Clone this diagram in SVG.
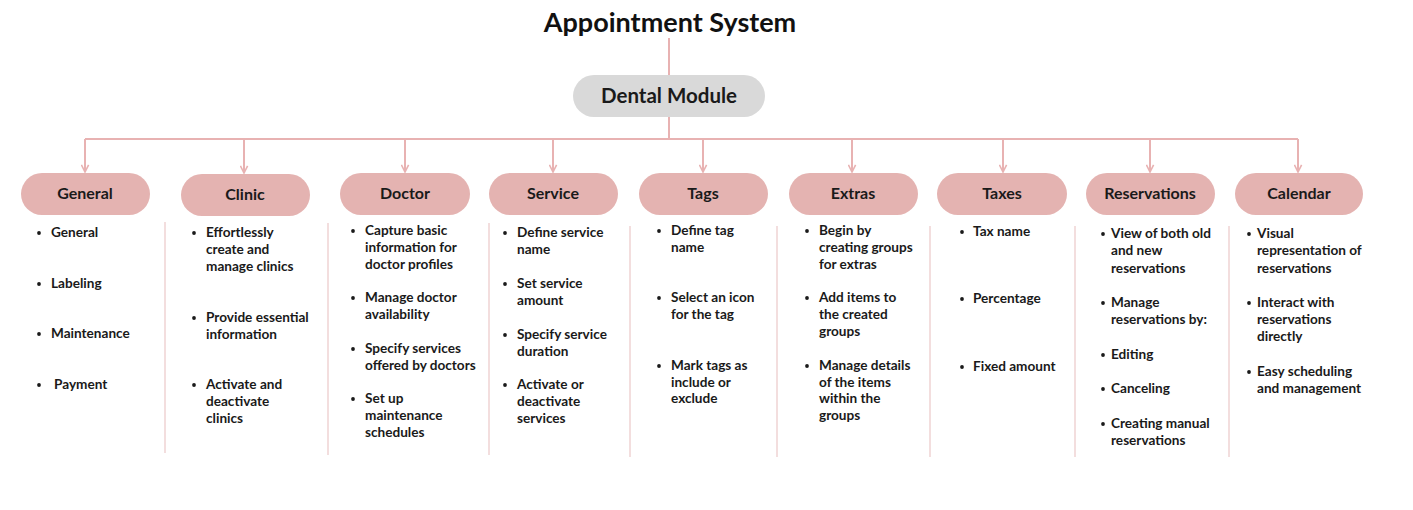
<svg xmlns="http://www.w3.org/2000/svg" width="1413" height="510" viewBox="0 0 1413 510">
<style>
.title{font-family:Lato,"Liberation Sans",sans-serif;font-weight:700;font-size:27px;fill:#111}
.root{fill:#d9d9d9}
.roottxt{font-family:Lato,"Liberation Sans",sans-serif;font-weight:700;font-size:20.5px;fill:#1a1a1a}
.pill{fill:#e4b3b1}
.head{font-family:Lato,"Liberation Sans",sans-serif;font-weight:700;font-size:16px;fill:#1a1a1a;text-anchor:middle}
.item{font-family:Lato,"Liberation Sans",sans-serif;font-weight:700;font-size:13.6px;fill:#1a1a1a}
.bul{fill:#1a1a1a}
.conn{stroke:#e8b2b2;stroke-width:2;fill:none}
.sep{stroke:#efd3d3;stroke-width:1.5;fill:none}
</style>
<defs>
<marker id="arr" viewBox="0 0 10 10" refX="9" refY="5" markerWidth="9" markerHeight="9" markerUnits="userSpaceOnUse" orient="auto">
<path d="M1,1 L9,5 L1,9" fill="none" stroke="#e8b2b2" stroke-width="1.8"/>
</marker>
</defs>
<rect width="1413" height="510" fill="#ffffff"/>
<text class="title" x="670" y="32" text-anchor="middle">Appointment System</text>

<g id="connectors">
<line class="conn" x1="669" y1="38" x2="669" y2="75"/>
<line class="conn" x1="669" y1="117" x2="669" y2="139"/>
<line class="conn" x1="85" y1="139" x2="1298" y2="139"/>
<line class="conn" x1="85" y1="139" x2="85" y2="172" marker-end="url(#arr)"/>
<line class="conn" x1="244" y1="139" x2="244" y2="173" marker-end="url(#arr)"/>
<line class="conn" x1="405" y1="139" x2="405" y2="172" marker-end="url(#arr)"/>
<line class="conn" x1="553" y1="139" x2="553" y2="172" marker-end="url(#arr)"/>
<line class="conn" x1="703" y1="139" x2="703" y2="172" marker-end="url(#arr)"/>
<line class="conn" x1="852" y1="139" x2="852" y2="172" marker-end="url(#arr)"/>
<line class="conn" x1="1003" y1="139" x2="1003" y2="172" marker-end="url(#arr)"/>
<line class="conn" x1="1150" y1="139" x2="1150" y2="172" marker-end="url(#arr)"/>
<line class="conn" x1="1298" y1="139" x2="1298" y2="172" marker-end="url(#arr)"/>
<line class="sep" x1="165" y1="222" x2="165" y2="453"/>
<line class="sep" x1="328" y1="223" x2="328" y2="455"/>
<line class="sep" x1="489" y1="223" x2="489" y2="455"/>
<line class="sep" x1="630" y1="226" x2="630" y2="457"/>
<line class="sep" x1="777" y1="226" x2="777" y2="457"/>
<line class="sep" x1="930" y1="226" x2="930" y2="457"/>
<line class="sep" x1="1075" y1="226" x2="1075" y2="457"/>
<line class="sep" x1="1229" y1="226" x2="1229" y2="457"/>
</g>

<g id="dental-module">
<rect class="root" x="573" y="75" width="192" height="42" rx="21"/>
<text class="roottxt" x="669" y="103" text-anchor="middle">Dental Module</text>
</g>

<g id="general">
<rect class="pill" x="21" y="173" width="129" height="42" rx="21"/>
<text class="head" x="85" y="199">General</text>
<circle class="bul" cx="39" cy="233" r="1.9"/><text class="item" x="51" y="237">General</text>
<circle class="bul" cx="39" cy="284" r="1.9"/><text class="item" x="51" y="288">Labeling</text>
<circle class="bul" cx="39" cy="334" r="1.9"/><text class="item" x="51" y="338">Maintenance</text>
<circle class="bul" cx="39" cy="385" r="1.9"/><text class="item" x="54" y="389">Payment</text>
</g>

<g id="clinic">
<rect class="pill" x="181" y="174" width="129" height="42" rx="21"/>
<text class="head" x="245" y="200">Clinic</text>
<circle class="bul" cx="194" cy="233" r="1.9"/>
<text class="item" x="206" y="237">Effortlessly</text>
<text class="item" x="206" y="254">create and</text>
<text class="item" x="206" y="271">manage clinics</text>
<circle class="bul" cx="194" cy="318" r="1.9"/>
<text class="item" x="206" y="322">Provide essential</text>
<text class="item" x="206" y="339">information</text>
<circle class="bul" cx="194" cy="385" r="1.9"/>
<text class="item" x="206" y="389">Activate and</text>
<text class="item" x="206" y="406">deactivate</text>
<text class="item" x="206" y="423">clinics</text>
</g>

<g id="doctor">
<rect class="pill" x="340" y="173" width="130" height="42" rx="21"/>
<text class="head" x="405" y="199">Doctor</text>
<circle class="bul" cx="353" cy="231" r="1.9"/>
<text class="item" x="365" y="235">Capture basic</text>
<text class="item" x="365" y="252">information for</text>
<text class="item" x="365" y="269">doctor profiles</text>
<circle class="bul" cx="353" cy="298" r="1.9"/>
<text class="item" x="365" y="302">Manage doctor</text>
<text class="item" x="365" y="319">availability</text>
<circle class="bul" cx="353" cy="349" r="1.9"/>
<text class="item" x="365" y="353">Specify services</text>
<text class="item" x="365" y="370">offered by doctors</text>
<circle class="bul" cx="353" cy="399" r="1.9"/>
<text class="item" x="365" y="403">Set up</text>
<text class="item" x="365" y="420">maintenance</text>
<text class="item" x="365" y="437">schedules</text>
</g>

<g id="service">
<rect class="pill" x="489" y="173" width="129" height="42" rx="21"/>
<text class="head" x="553" y="199">Service</text>
<circle class="bul" cx="505" cy="233" r="1.9"/>
<text class="item" x="517" y="237">Define service</text>
<text class="item" x="517" y="254">name</text>
<circle class="bul" cx="505" cy="284" r="1.9"/>
<text class="item" x="517" y="288">Set service</text>
<text class="item" x="517" y="305">amount</text>
<circle class="bul" cx="505" cy="335" r="1.9"/>
<text class="item" x="517" y="339">Specify service</text>
<text class="item" x="517" y="356">duration</text>
<circle class="bul" cx="505" cy="385" r="1.9"/>
<text class="item" x="517" y="389">Activate or</text>
<text class="item" x="517" y="406">deactivate</text>
<text class="item" x="517" y="423">services</text>
</g>

<g id="tags">
<rect class="pill" x="639" y="173" width="129" height="42" rx="21"/>
<text class="head" x="703" y="199">Tags</text>
<circle class="bul" cx="659" cy="231" r="1.9"/>
<text class="item" x="671" y="235">Define tag</text>
<text class="item" x="671" y="252">name</text>
<circle class="bul" cx="659" cy="298" r="1.9"/>
<text class="item" x="671" y="302">Select an icon</text>
<text class="item" x="671" y="319">for the tag</text>
<circle class="bul" cx="659" cy="366" r="1.9"/>
<text class="item" x="671" y="370">Mark tags as</text>
<text class="item" x="671" y="387">include or</text>
<text class="item" x="671" y="403">exclude</text>
</g>

<g id="extras">
<rect class="pill" x="789" y="173" width="129" height="42" rx="21"/>
<text class="head" x="853" y="199">Extras</text>
<circle class="bul" cx="807" cy="231" r="1.9"/>
<text class="item" x="819" y="235">Begin by</text>
<text class="item" x="819" y="252">creating groups</text>
<text class="item" x="819" y="269">for extras</text>
<circle class="bul" cx="807" cy="298" r="1.9"/>
<text class="item" x="819" y="302">Add items to</text>
<text class="item" x="819" y="319">the created</text>
<text class="item" x="819" y="336">groups</text>
<circle class="bul" cx="807" cy="366" r="1.9"/>
<text class="item" x="819" y="370">Manage details</text>
<text class="item" x="819" y="387">of the items</text>
<text class="item" x="819" y="403">within the</text>
<text class="item" x="819" y="420">groups</text>
</g>

<g id="taxes">
<rect class="pill" x="937" y="173" width="130" height="42" rx="21"/>
<text class="head" x="1002" y="199">Taxes</text>
<circle class="bul" cx="962" cy="232" r="1.9"/><text class="item" x="973" y="236">Tax name</text>
<circle class="bul" cx="962" cy="299" r="1.9"/><text class="item" x="973" y="303">Percentage</text>
<circle class="bul" cx="962" cy="367" r="1.9"/><text class="item" x="973" y="371">Fixed amount</text>
</g>

<g id="reservations">
<rect class="pill" x="1086" y="173" width="129" height="42" rx="21"/>
<text class="head" x="1150" y="199">Reservations</text>
<circle class="bul" cx="1103" cy="234" r="1.9"/>
<text class="item" x="1111" y="238">View of both old</text>
<text class="item" x="1111" y="255">and new</text>
<text class="item" x="1111" y="273">reservations</text>
<circle class="bul" cx="1103" cy="303" r="1.9"/>
<text class="item" x="1111" y="307">Manage</text>
<text class="item" x="1111" y="324">reservations by:</text>
<circle class="bul" cx="1103" cy="355" r="1.9"/><text class="item" x="1111" y="359">Editing</text>
<circle class="bul" cx="1103" cy="389" r="1.9"/><text class="item" x="1111" y="393">Canceling</text>
<circle class="bul" cx="1103" cy="424" r="1.9"/>
<text class="item" x="1111" y="428">Creating manual</text>
<text class="item" x="1111" y="445">reservations</text>
</g>

<g id="calendar">
<rect class="pill" x="1235" y="173" width="128" height="42" rx="21"/>
<text class="head" x="1299" y="199">Calendar</text>
<circle class="bul" cx="1249" cy="234" r="1.9"/>
<text class="item" x="1257" y="238">Visual</text>
<text class="item" x="1257" y="255">representation of</text>
<text class="item" x="1257" y="273">reservations</text>
<circle class="bul" cx="1249" cy="303" r="1.9"/>
<text class="item" x="1257" y="307">Interact with</text>
<text class="item" x="1257" y="324">reservations</text>
<text class="item" x="1257" y="341">directly</text>
<circle class="bul" cx="1249" cy="372" r="1.9"/>
<text class="item" x="1257" y="376">Easy scheduling</text>
<text class="item" x="1257" y="393">and management</text>
</g>
</svg>
